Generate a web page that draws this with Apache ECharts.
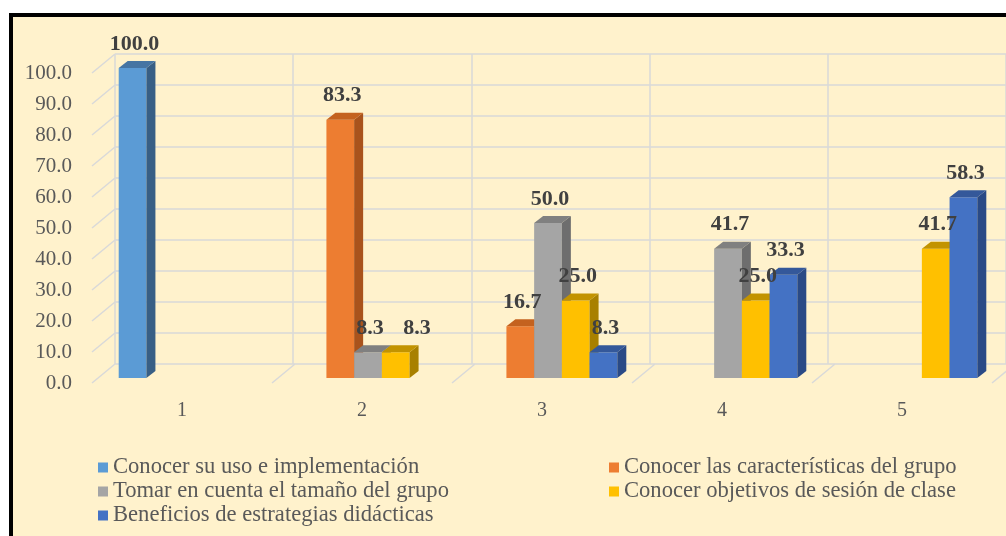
<!DOCTYPE html>
<html>
<head>
<meta charset="utf-8">
<script src="https://cdn.jsdelivr.net/npm/echarts@6/dist/echarts.min.js"></script>
<style>
  html, body { margin: 0; padding: 0; background: #ffffff; overflow: hidden; }
  #frame {
    position: absolute; left: 9px; top: 13px; width: 1100px; height: 600px;
    border: 4px solid #000000; background: #FFF2CC;
  }
  #chart { position: absolute; left: 0; top: 0; width: 1006px; height: 536px; }
</style>
</head>
<body>
<div id="frame"></div>
<div id="chart"></div>
<script>
// Datos del grafico
var categories = ["1", "2", "3", "4", "5"];
var yTicks = [0, 10, 20, 30, 40, 50, 60, 70, 80, 90, 100];
var seriesNames = [
  "Conocer su uso e implementación",
  "Conocer las características del grupo",
  "Tomar en cuenta el tamaño del grupo",
  "Conocer objetivos de sesión de clase",
  "Beneficios de estrategias didácticas"
];
var usoValues = [100.0, null, null, null, null];
var caracteristicasValues = [null, 83.3, 16.7, null, null];
var tamanoValues = [null, 8.3, 50.0, 41.7, null];
var objetivosValues = [null, 8.3, 25.0, 25.0, 41.7];
var beneficiosValues = [null, null, 8.3, 33.3, 58.3];

var allValues = [usoValues, caracteristicasValues, tamanoValues, objetivosValues, beneficiosValues];

// colores: frente, lado, arriba
var colors = [
  { front: "#5B9BD5", side: "#385F85", top: "#4675A3" },
  { front: "#ED7D31", side: "#A9531C", top: "#C4621F" },
  { front: "#A5A5A5", side: "#6E6E6E", top: "#808080" },
  { front: "#FFC000", side: "#A88000", top: "#C29300" },
  { front: "#4472C4", side: "#2A4A86", top: "#34589A" }
];

var FONT = "'Liberation Serif', 'Times New Roman', serif";
var DEPTH_X = 23, DEPTH_Y = 19;   // profundidad de la pared
var BAR_X = 6, BAR_Y = -5;        // plano de las barras
var SIDE_X = 9, SIDE_Y = 7;       // profundidad de cada barra
var GRID_COLOR = "#D9D9D9";

var myChart = echarts.init(document.getElementById("chart"));

// lineas diagonales del piso y pared izquierda
function renderWall(params, api) {
  var cs = params.coordSys;
  var kind = api.value(0);
  var v = api.value(1);
  var x1, y1;
  if (kind == 0) {
    x1 = cs.x;
    y1 = api.coord([0, v])[1];
  } else {
    var band = api.size([1, 0])[0];
    x1 = cs.x + v * band;
    y1 = cs.y + cs.height;
  }
  return {
    type: "line",
    shape: { x1: x1, y1: y1, x2: x1 + DEPTH_X, y2: y1 - DEPTH_Y },
    style: { stroke: GRID_COLOR, lineWidth: 1.5 }
  };
}

function makeBarRender(idx) {
  return function (params, api) {
    var cat = api.value(0);
    var val = api.value(1);
    var c = api.coord([cat, val]);
    var base = api.coord([cat, 0]);
    var band = api.size([1, 0])[0];
    var w = band * 0.77 / 5;
    var x0 = c[0] - 2.5 * w + idx * w + BAR_X;
    var yt = c[1] + BAR_Y;
    var yb = base[1] + BAR_Y;
    var col = colors[idx];

    // evitar que dos etiquetas iguales y vecinas se encimen
    var labelShift = 0;
    if (idx > 0 && allValues[idx - 1][cat] === val) {
      labelShift = w * 0.7;
    }

    return {
      type: "group",
      children: [
        {
          type: "rect",
          shape: { x: x0, y: yt, width: w, height: yb - yt },
          style: { fill: col.front }
        },
        {
          type: "polygon",
          shape: { points: [[x0 + w, yt], [x0 + w + SIDE_X, yt - SIDE_Y], [x0 + w + SIDE_X, yb - SIDE_Y], [x0 + w, yb]] },
          style: { fill: col.side }
        },
        {
          type: "polygon",
          shape: { points: [[x0, yt], [x0 + SIDE_X, yt - SIDE_Y], [x0 + w + SIDE_X, yt - SIDE_Y], [x0 + w, yt]] },
          style: { fill: col.top }
        },
        {
          type: "text",
          z2: 100,
          style: {
            text: val.toFixed(1),
            x: x0 + w / 2 + 2 + labelShift,
            y: yt - SIDE_Y - 17,
            align: "center",
            verticalAlign: "middle",
            fill: "#404040",
            font: "bold 22px " + FONT
          }
        }
      ]
    };
  };
}

var wallData = [];
yTicks.forEach(function (t) { wallData.push([0, t]); });
for (var b = 1; b <= categories.length; b++) { wallData.push([1, b]); }

var series = [
  {
    type: "custom",
    name: "wall",
    xAxisIndex: 0,
    yAxisIndex: 0,
    z: 1,
    silent: true,
    renderItem: renderWall,
    data: wallData
  }
];

allValues.forEach(function (values, idx) {
  var data = [];
  values.forEach(function (v, i) {
    if (v != null) data.push([i, v]);
  });
  series.push({
    type: "custom",
    name: seriesNames[idx],
    xAxisIndex: 0,
    yAxisIndex: 0,
    z: 2,
    itemStyle: { color: colors[idx].front },
    renderItem: makeBarRender(idx),
    data: data
  });
});

var legendText = { color: "#595959", fontFamily: FONT, fontSize: 22.6, lineHeight: 22 };

var option = {
  animation: false,
  backgroundColor: "transparent",
  grid: [
    { left: 92, top: 73, width: 900, height: 310 },
    { left: 92 + DEPTH_X, top: 73 - DEPTH_Y, width: 900, height: 310 }
  ],
  xAxis: [
    {
      type: "category",
      gridIndex: 0,
      data: categories,
      axisLine: { show: false },
      axisTick: { show: false },
      axisLabel: { color: "#595959", fontFamily: FONT, fontSize: 20, margin: 18 },
      splitLine: { show: false }
    },
    {
      type: "category",
      gridIndex: 1,
      data: categories,
      axisLine: { show: false },
      axisTick: { show: false },
      axisLabel: { show: false },
      splitLine: { show: true, interval: 0, lineStyle: { color: GRID_COLOR, width: 1.5 } }
    }
  ],
  yAxis: [
    {
      type: "value",
      gridIndex: 0,
      min: 0,
      max: 100,
      interval: 10,
      axisLine: { show: false },
      axisTick: { show: false },
      axisLabel: {
        color: "#595959", fontFamily: FONT, fontSize: 21, margin: 20,
        formatter: function (v) { return v.toFixed(1); }
      },
      splitLine: { show: false }
    },
    {
      type: "value",
      gridIndex: 1,
      min: 0,
      max: 100,
      interval: 10,
      axisLine: { show: false },
      axisTick: { show: false },
      axisLabel: { show: false },
      splitLine: { show: true, lineStyle: { color: GRID_COLOR, width: 1.5 } }
    }
  ],
  legend: [
    {
      orient: "vertical",
      left: 98,
      top: 456,
      padding: 0,
      itemWidth: 10,
      itemHeight: 10,
      itemGap: 1,
      icon: "rect",
      textStyle: legendText,
      data: [seriesNames[0], seriesNames[2], seriesNames[4]]
    },
    {
      orient: "vertical",
      left: 609,
      top: 456,
      padding: 0,
      itemWidth: 10,
      itemHeight: 10,
      itemGap: 1,
      icon: "rect",
      textStyle: legendText,
      data: [seriesNames[1], seriesNames[3]]
    }
  ],
  series: series
};

myChart.setOption(option);
</script>
</body>
</html>
